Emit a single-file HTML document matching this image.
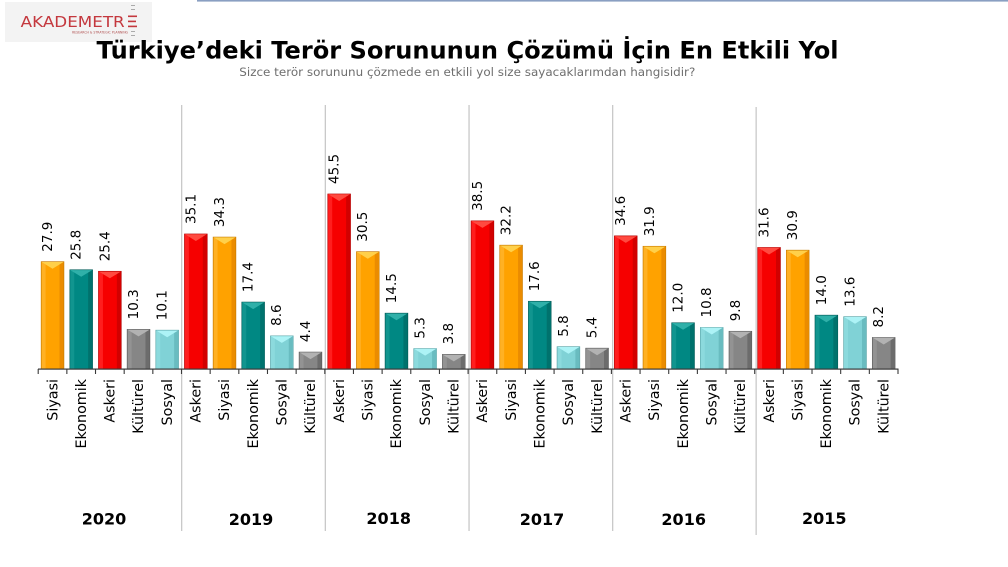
<!DOCTYPE html>
<html><head><meta charset="utf-8">
<style>
html,body{margin:0;padding:0;background:#fff;}
svg{display:block;}
text{font-family:"DejaVu Sans","Liberation Sans",sans-serif;}
.O .a{fill:#ffa200}.O .l{fill:#ffb124}.O .d{fill:#eb8c00}.O .t{fill:#ffd04a}.O .a{stroke:#c87a00}
.T .a{fill:#008883}.T .l{fill:#11958f}.T .d{fill:#00726d}.T .t{fill:#2fb0a9}.T .a{stroke:#005a56}
.R .a{fill:#f60000}.R .l{fill:#ff1e1e}.R .d{fill:#d20000}.R .t{fill:#ff4a40}.R .a{stroke:#b00000}
.G .a{fill:#868686}.G .l{fill:#939393}.G .d{fill:#6c6c6c}.G .t{fill:#b2b2b2}.G .a{stroke:#5a5a5a}
.B .a{fill:#80d2d6}.B .l{fill:#8cdadd}.B .d{fill:#69bcc0}.B .t{fill:#adf3f6}.B .a{stroke:#5aa6a9}
.a{stroke-width:0.7}
.v{font-size:13.5px;fill:#000;}
.c{font-size:14.3px;fill:#000;text-anchor:end;}
.y{font-size:16px;font-weight:bold;fill:#000;text-anchor:middle;}
</style></head>
<body>
<svg width="1008" height="567" viewBox="0 0 1008 567" xmlns="http://www.w3.org/2000/svg">
<rect x="0" y="0" width="1008" height="567" fill="#fff"/>
<!-- top line -->
<rect x="197" y="0" width="811" height="1.6" fill="#8a9fc2"/>
<!-- logo -->
<rect x="5" y="2" width="147" height="40" fill="#f3f3f3"/>
<text x="20.7" y="27" font-size="15.5" fill="#c4383e" textLength="104" lengthAdjust="spacingAndGlyphs">AKADEMETR</text>
<rect x="128" y="15.5" width="9" height="1.6" fill="#c4383e"/>
<rect x="128" y="20.6" width="8" height="1.6" fill="#c4383e"/>
<rect x="128" y="25.6" width="9" height="1.6" fill="#c4383e"/>
<rect x="131" y="5" width="4" height="1" fill="#aaa"/>
<rect x="131" y="9" width="4" height="1" fill="#aaa"/>
<rect x="131" y="31" width="4" height="1" fill="#aaa"/>
<rect x="131" y="35" width="4" height="1" fill="#aaa"/>
<text x="72" y="33.5" font-size="3.6" fill="#b05050" textLength="56" lengthAdjust="spacingAndGlyphs">RESEARCH &amp; STRATEGIC PLANNING</text>
<!-- title -->
<text x="96.5" y="58.5" font-size="24" font-weight="bold" fill="#000" textLength="742" lengthAdjust="spacingAndGlyphs">Türkiye’deki Terör Sorununun Çözümü İçin En Etkili Yol</text>
<text x="239.3" y="76" font-size="11.5" fill="#6e6e6e" textLength="456" lengthAdjust="spacingAndGlyphs">Sizce terör sorununu çözmede en etkili yol size sayacaklarımdan hangisidir?</text>
<!-- separators -->
<g fill="#c9c9c9">
<rect x="181" y="105" width="1.3" height="426"/>
<rect x="324.7" y="105" width="1.3" height="426"/>
<rect x="468.4" y="105" width="1.3" height="426"/>
<rect x="612" y="105" width="1.3" height="426"/>
<rect x="755.5" y="107" width="1.3" height="428"/>
</g>
<!-- bars -->
<g class="O"><rect class="a" x="41.2" y="261.7" width="22.7" height="107.3"/><rect class="l" x="41.6" y="262" width="4" height="106.8"/><rect class="d" x="59.5" y="262" width="4" height="106.8"/><polygon class="t" points="41.6,262 63.5,262 52.55,268.7"/></g>
<g class="T"><rect class="a" x="69.86" y="269.8" width="22.7" height="99.2"/><rect class="l" x="70.26" y="270.1" width="4" height="98.7"/><rect class="d" x="88.16" y="270.1" width="4" height="98.7"/><polygon class="t" points="70.26,270.1 92.16,270.1 81.21,276.8"/></g>
<g class="R"><rect class="a" x="98.52" y="271.3" width="22.7" height="97.7"/><rect class="l" x="98.92" y="271.6" width="4" height="97.2"/><rect class="d" x="116.82" y="271.6" width="4" height="97.2"/><polygon class="t" points="98.92,271.6 120.82,271.6 109.87,278.3"/></g>
<g class="G"><rect class="a" x="127.18" y="329.4" width="22.7" height="39.6"/><rect class="l" x="127.58" y="329.7" width="4" height="39.1"/><rect class="d" x="145.48" y="329.7" width="4" height="39.1"/><polygon class="t" points="127.58,329.7 149.48,329.7 138.53,336.4"/></g>
<g class="B"><rect class="a" x="155.84" y="330.2" width="22.7" height="38.8"/><rect class="l" x="156.24" y="330.5" width="4" height="38.3"/><rect class="d" x="174.14" y="330.5" width="4" height="38.3"/><polygon class="t" points="156.24,330.5 178.14,330.5 167.19,337.2"/></g>

<g class="R"><rect class="a" x="184.5" y="234" width="22.7" height="135"/><rect class="l" x="184.9" y="234.3" width="4" height="134.5"/><rect class="d" x="202.8" y="234.3" width="4" height="134.5"/><polygon class="t" points="184.9,234.3 206.8,234.3 195.85,241"/></g>
<g class="O"><rect class="a" x="213.16" y="237.1" width="22.7" height="131.9"/><rect class="l" x="213.56" y="237.4" width="4" height="131.4"/><rect class="d" x="231.46" y="237.4" width="4" height="131.4"/><polygon class="t" points="213.56,237.4 235.46,237.4 224.51,244.1"/></g>
<g class="T"><rect class="a" x="241.82" y="302.1" width="22.7" height="66.9"/><rect class="l" x="242.22" y="302.4" width="4" height="66.4"/><rect class="d" x="260.12" y="302.4" width="4" height="66.4"/><polygon class="t" points="242.22,302.4 264.12,302.4 253.17,309.1"/></g>
<g class="B"><rect class="a" x="270.48" y="335.9" width="22.7" height="33.1"/><rect class="l" x="270.88" y="336.2" width="4" height="32.6"/><rect class="d" x="288.78" y="336.2" width="4" height="32.6"/><polygon class="t" points="270.88,336.2 292.78,336.2 281.83,342.9"/></g>
<g class="G"><rect class="a" x="299.14" y="352.1" width="22.7" height="16.9"/><rect class="l" x="299.54" y="352.4" width="4" height="16.4"/><rect class="d" x="317.44" y="352.4" width="4" height="16.4"/><polygon class="t" points="299.54,352.4 321.44,352.4 310.49,359.1"/></g>

<g class="R"><rect class="a" x="327.8" y="194" width="22.7" height="175"/><rect class="l" x="328.2" y="194.3" width="4" height="174.5"/><rect class="d" x="346.1" y="194.3" width="4" height="174.5"/><polygon class="t" points="328.2,194.3 350.1,194.3 339.15,201"/></g>
<g class="O"><rect class="a" x="356.46" y="251.7" width="22.7" height="117.3"/><rect class="l" x="356.86" y="252" width="4" height="116.8"/><rect class="d" x="374.76" y="252" width="4" height="116.8"/><polygon class="t" points="356.86,252 378.76,252 367.81,258.7"/></g>
<g class="T"><rect class="a" x="385.12" y="313.2" width="22.7" height="55.8"/><rect class="l" x="385.52" y="313.5" width="4" height="55.3"/><rect class="d" x="403.42" y="313.5" width="4" height="55.3"/><polygon class="t" points="385.52,313.5 407.42,313.5 396.47,320.2"/></g>
<g class="B"><rect class="a" x="413.78" y="348.6" width="22.7" height="20.4"/><rect class="l" x="414.18" y="348.9" width="4" height="19.9"/><rect class="d" x="432.08" y="348.9" width="4" height="19.9"/><polygon class="t" points="414.18,348.9 436.08,348.9 425.13,355.6"/></g>
<g class="G"><rect class="a" x="442.44" y="354.4" width="22.7" height="14.6"/><rect class="l" x="442.84" y="354.7" width="4" height="14.1"/><rect class="d" x="460.74" y="354.7" width="4" height="14.1"/><polygon class="t" points="442.84,354.7 464.74,354.7 453.79,361.4"/></g>

<g class="R"><rect class="a" x="471.1" y="220.9" width="22.7" height="148.1"/><rect class="l" x="471.5" y="221.2" width="4" height="147.6"/><rect class="d" x="489.4" y="221.2" width="4" height="147.6"/><polygon class="t" points="471.5,221.2 493.4,221.2 482.45,227.9"/></g>
<g class="O"><rect class="a" x="499.76" y="245.2" width="22.7" height="123.8"/><rect class="l" x="500.16" y="245.5" width="4" height="123.3"/><rect class="d" x="518.06" y="245.5" width="4" height="123.3"/><polygon class="t" points="500.16,245.5 522.06,245.5 511.11,252.2"/></g>
<g class="T"><rect class="a" x="528.42" y="301.3" width="22.7" height="67.7"/><rect class="l" x="528.82" y="301.6" width="4" height="67.2"/><rect class="d" x="546.72" y="301.6" width="4" height="67.2"/><polygon class="t" points="528.82,301.6 550.72,301.6 539.77,308.3"/></g>
<g class="B"><rect class="a" x="557.08" y="346.7" width="22.7" height="22.3"/><rect class="l" x="557.48" y="347" width="4" height="21.8"/><rect class="d" x="575.38" y="347" width="4" height="21.8"/><polygon class="t" points="557.48,347 579.38,347 568.43,353.7"/></g>
<g class="G"><rect class="a" x="585.74" y="348.2" width="22.7" height="20.8"/><rect class="l" x="586.14" y="348.5" width="4" height="20.3"/><rect class="d" x="604.04" y="348.5" width="4" height="20.3"/><polygon class="t" points="586.14,348.5 608.04,348.5 597.09,355.2"/></g>

<g class="R"><rect class="a" x="614.4" y="235.9" width="22.7" height="133.1"/><rect class="l" x="614.8" y="236.2" width="4" height="132.6"/><rect class="d" x="632.7" y="236.2" width="4" height="132.6"/><polygon class="t" points="614.8,236.2 636.7,236.2 625.75,242.9"/></g>
<g class="O"><rect class="a" x="643.06" y="246.3" width="22.7" height="122.7"/><rect class="l" x="643.46" y="246.6" width="4" height="122.2"/><rect class="d" x="661.36" y="246.6" width="4" height="122.2"/><polygon class="t" points="643.46,246.6 665.36,246.6 654.41,253.3"/></g>
<g class="T"><rect class="a" x="671.72" y="322.8" width="22.7" height="46.2"/><rect class="l" x="672.12" y="323.1" width="4" height="45.7"/><rect class="d" x="690.02" y="323.1" width="4" height="45.7"/><polygon class="t" points="672.12,323.1 694.02,323.1 683.07,329.8"/></g>
<g class="B"><rect class="a" x="700.38" y="327.5" width="22.7" height="41.5"/><rect class="l" x="700.78" y="327.8" width="4" height="41"/><rect class="d" x="718.68" y="327.8" width="4" height="41"/><polygon class="t" points="700.78,327.8 722.68,327.8 711.73,334.5"/></g>
<g class="G"><rect class="a" x="729.04" y="331.3" width="22.7" height="37.7"/><rect class="l" x="729.44" y="331.6" width="4" height="37.2"/><rect class="d" x="747.34" y="331.6" width="4" height="37.2"/><polygon class="t" points="729.44,331.6 751.34,331.6 740.39,338.3"/></g>

<g class="R"><rect class="a" x="757.7" y="247.5" width="22.7" height="121.5"/><rect class="l" x="758.1" y="247.8" width="4" height="121"/><rect class="d" x="776" y="247.8" width="4" height="121"/><polygon class="t" points="758.1,247.8 780,247.8 769.05,254.5"/></g>
<g class="O"><rect class="a" x="786.36" y="250.2" width="22.7" height="118.8"/><rect class="l" x="786.76" y="250.5" width="4" height="118.3"/><rect class="d" x="804.66" y="250.5" width="4" height="118.3"/><polygon class="t" points="786.76,250.5 808.66,250.5 797.71,257.2"/></g>
<g class="T"><rect class="a" x="815.02" y="315.2" width="22.7" height="53.8"/><rect class="l" x="815.42" y="315.5" width="4" height="53.3"/><rect class="d" x="833.32" y="315.5" width="4" height="53.3"/><polygon class="t" points="815.42,315.5 837.32,315.5 826.37,322.2"/></g>
<g class="B"><rect class="a" x="843.68" y="316.7" width="22.7" height="52.3"/><rect class="l" x="844.08" y="317" width="4" height="51.8"/><rect class="d" x="861.98" y="317" width="4" height="51.8"/><polygon class="t" points="844.08,317 865.98,317 855.03,323.7"/></g>
<g class="G"><rect class="a" x="872.34" y="337.5" width="22.7" height="31.5"/><rect class="l" x="872.74" y="337.8" width="4" height="31"/><rect class="d" x="890.64" y="337.8" width="4" height="31"/><polygon class="t" points="872.74,337.8 894.64,337.8 883.69,344.5"/></g>

<!-- axis -->
<rect x="38" y="368.5" width="860.5" height="1.2" fill="#3a3a3a"/>
<path d="M38.2 369V374M66.86 369V374M95.52 369V374M124.18 369V374M152.84 369V374M181.5 369V374M210.16 369V374M238.82 369V374M267.48 369V374M296.14 369V374M324.8 369V374M353.46 369V374M382.12 369V374M410.78 369V374M439.44 369V374M468.1 369V374M496.76 369V374M525.42 369V374M554.08 369V374M582.74 369V374M611.4 369V374M640.06 369V374M668.72 369V374M697.38 369V374M726.04 369V374M754.7 369V374M783.36 369V374M812.02 369V374M840.68 369V374M869.34 369V374M898 369V374" stroke="#3a3a3a" stroke-width="1.1" fill="none"/>

<!-- value labels -->
<g class="v">
<text transform="translate(51.95,251.7) rotate(-90)">27.9</text>
<text transform="translate(80.61,259.8) rotate(-90)">25.8</text>
<text transform="translate(109.27,261.3) rotate(-90)">25.4</text>
<text transform="translate(137.93,319.4) rotate(-90)">10.3</text>
<text transform="translate(166.59,320.2) rotate(-90)">10.1</text>
<text transform="translate(195.25,224) rotate(-90)">35.1</text>
<text transform="translate(223.91,227.1) rotate(-90)">34.3</text>
<text transform="translate(252.57,292.1) rotate(-90)">17.4</text>
<text transform="translate(281.23,325.9) rotate(-90)">8.6</text>
<text transform="translate(309.89,342.1) rotate(-90)">4.4</text>
<text transform="translate(338.55,184) rotate(-90)">45.5</text>
<text transform="translate(367.21,241.7) rotate(-90)">30.5</text>
<text transform="translate(395.87,303.2) rotate(-90)">14.5</text>
<text transform="translate(424.53,338.6) rotate(-90)">5.3</text>
<text transform="translate(453.19,344.4) rotate(-90)">3.8</text>
<text transform="translate(481.85,210.9) rotate(-90)">38.5</text>
<text transform="translate(510.51,235.2) rotate(-90)">32.2</text>
<text transform="translate(539.17,291.3) rotate(-90)">17.6</text>
<text transform="translate(567.83,336.7) rotate(-90)">5.8</text>
<text transform="translate(596.49,338.2) rotate(-90)">5.4</text>
<text transform="translate(625.15,225.9) rotate(-90)">34.6</text>
<text transform="translate(653.81,236.3) rotate(-90)">31.9</text>
<text transform="translate(682.47,312.8) rotate(-90)">12.0</text>
<text transform="translate(711.13,317.5) rotate(-90)">10.8</text>
<text transform="translate(739.79,321.3) rotate(-90)">9.8</text>
<text transform="translate(768.45,237.5) rotate(-90)">31.6</text>
<text transform="translate(797.11,240.2) rotate(-90)">30.9</text>
<text transform="translate(825.77,305.2) rotate(-90)">14.0</text>
<text transform="translate(854.43,306.7) rotate(-90)">13.6</text>
<text transform="translate(883.09,327.5) rotate(-90)">8.2</text>
</g>

<!-- category labels -->
<g class="c">
<text transform="translate(57.25,379) rotate(-90)">Siyasi</text>
<text transform="translate(85.91,379) rotate(-90)">Ekonomik</text>
<text transform="translate(114.57,379) rotate(-90)">Askeri</text>
<text transform="translate(143.23,379) rotate(-90)">Kültürel</text>
<text transform="translate(171.89,379) rotate(-90)">Sosyal</text>
<text transform="translate(200.55,379) rotate(-90)">Askeri</text>
<text transform="translate(229.21,379) rotate(-90)">Siyasi</text>
<text transform="translate(257.87,379) rotate(-90)">Ekonomik</text>
<text transform="translate(286.53,379) rotate(-90)">Sosyal</text>
<text transform="translate(315.19,379) rotate(-90)">Kültürel</text>
<text transform="translate(343.85,379) rotate(-90)">Askeri</text>
<text transform="translate(372.51,379) rotate(-90)">Siyasi</text>
<text transform="translate(401.17,379) rotate(-90)">Ekonomik</text>
<text transform="translate(429.83,379) rotate(-90)">Sosyal</text>
<text transform="translate(458.49,379) rotate(-90)">Kültürel</text>
<text transform="translate(487.15,379) rotate(-90)">Askeri</text>
<text transform="translate(515.81,379) rotate(-90)">Siyasi</text>
<text transform="translate(544.47,379) rotate(-90)">Ekonomik</text>
<text transform="translate(573.13,379) rotate(-90)">Sosyal</text>
<text transform="translate(601.79,379) rotate(-90)">Kültürel</text>
<text transform="translate(630.45,379) rotate(-90)">Askeri</text>
<text transform="translate(659.11,379) rotate(-90)">Siyasi</text>
<text transform="translate(687.77,379) rotate(-90)">Ekonomik</text>
<text transform="translate(716.43,379) rotate(-90)">Sosyal</text>
<text transform="translate(745.09,379) rotate(-90)">Kültürel</text>
<text transform="translate(773.75,379) rotate(-90)">Askeri</text>
<text transform="translate(802.41,379) rotate(-90)">Siyasi</text>
<text transform="translate(831.07,379) rotate(-90)">Ekonomik</text>
<text transform="translate(859.73,379) rotate(-90)">Sosyal</text>
<text transform="translate(888.39,379) rotate(-90)">Kültürel</text>
</g>

<!-- years -->
<g class="y">
<text x="104" y="524.5">2020</text>
<text x="251" y="525">2019</text>
<text x="388.7" y="524">2018</text>
<text x="542" y="525">2017</text>
<text x="683.7" y="525">2016</text>
<text x="824.3" y="524">2015</text>
</g>
</svg>
</body></html>
